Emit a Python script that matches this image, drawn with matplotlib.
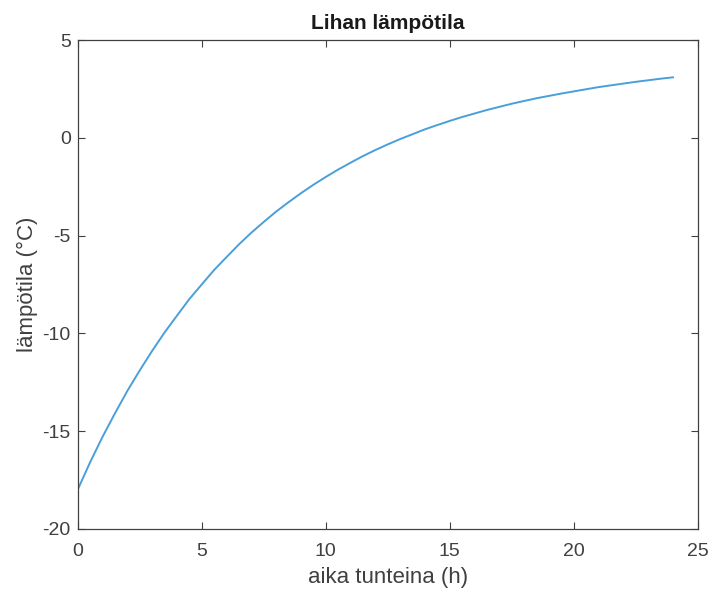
import matplotlib
matplotlib.use("Agg")
import matplotlib.pyplot as plt

# readings of the curve every half hour
hours = [0, 0.5, 1, 1.5, 2, 2.5, 3, 3.5, 4, 4.5, 5, 5.5, 6, 6.5, 7, 7.5, 8, 8.5,
         9, 9.5, 10, 10.5, 11, 11.5, 12, 12.5, 13, 13.5, 14, 14.5, 15, 15.5,
         16, 16.5, 17, 17.5, 18, 18.5, 19, 19.5, 20, 20.5, 21, 21.5, 22, 22.5,
         23, 23.5, 24]
temps = [-18.0, -16.6, -15.3, -14.1, -12.95, -11.9, -10.9, -9.96, -9.1, -8.25,
         -7.5, -6.76, -6.1, -5.45, -4.85, -4.3, -3.77, -3.29, -2.83, -2.4, -2.0,
         -1.62, -1.27, -0.93, -0.62, -0.33, -0.06, 0.19, 0.44, 0.66, 0.87, 1.07,
         1.25, 1.43, 1.59, 1.75, 1.89, 2.03, 2.15, 2.27, 2.38, 2.49, 2.6, 2.69,
         2.78, 2.87, 2.95, 3.03, 3.1]

x_ticks = [0, 5, 10, 15, 20, 25]
y_ticks = [-20, -15, -10, -5, 0, 5]

dark = "#404040"
plt.rcParams['font.family'] = ['Liberation Sans', 'DejaVu Sans']
plt.rcParams['axes.unicode_minus'] = False

fig = plt.figure(figsize=(7.12, 5.91), dpi=100)
ax = fig.add_axes([0.109, 0.105, 0.871, 0.827])

ax.plot(hours, temps, color="#4a9fda", linewidth=1.4)

ax.set_xlim(0, 25)
ax.set_ylim(-20, 5)
ax.set_xticks(x_ticks)
ax.set_yticks(y_ticks)
ax.tick_params(direction="in", top=True, right=True, length=5, width=0.8,
               colors=dark, labelsize=14)
ax.tick_params(axis="x", pad=10)
ax.tick_params(axis="y", pad=5)
for s in ax.spines.values():
    s.set_color(dark)
    s.set_linewidth(0.9)

ax.set_title("Lihan lämpötila", fontsize=15, fontweight="bold", color="#1a1a1a", pad=8)
ax.set_xlabel("aika tunteina (h)", fontsize=16, color=dark, labelpad=5)
ax.set_ylabel("lämpötila (°C)", fontsize=16, color=dark, labelpad=3)

fig.savefig("out.png", dpi=100)
